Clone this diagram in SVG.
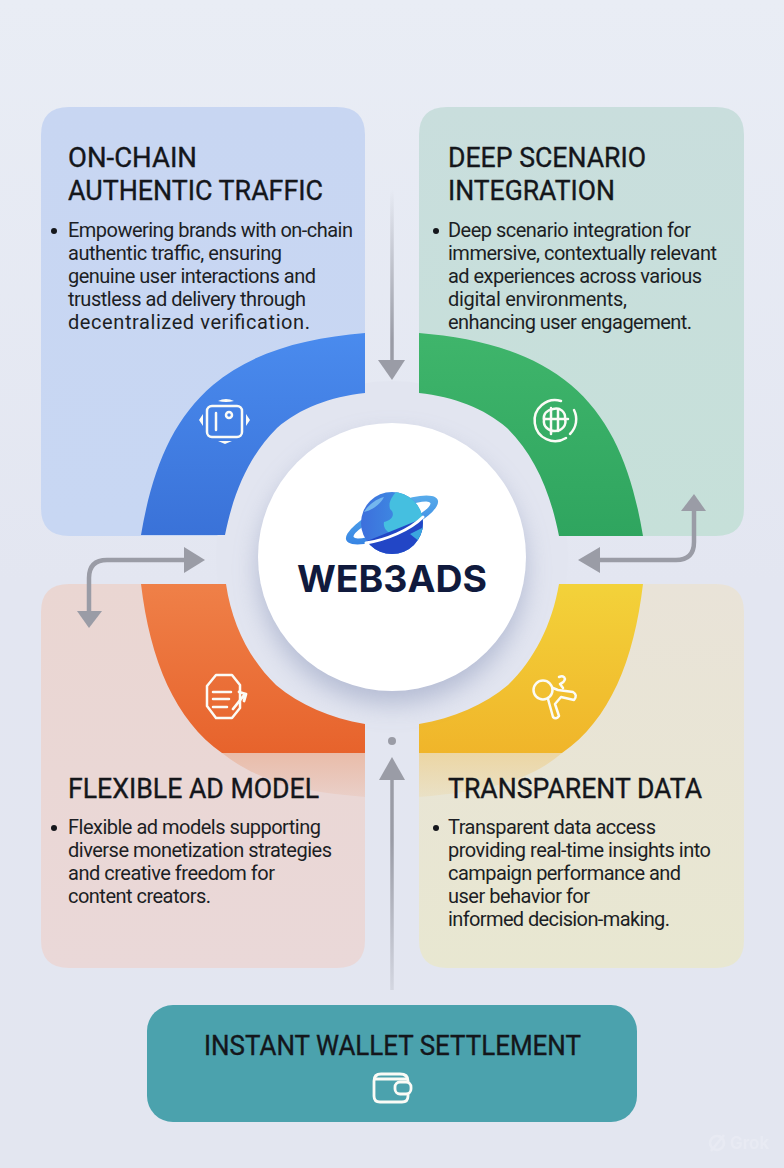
<svg xmlns="http://www.w3.org/2000/svg" width="784" height="1168" viewBox="0 0 784 1168">
<defs>
<linearGradient id="bg" x1="0" y1="0" x2="0" y2="1"><stop offset="0" stop-color="#e9edf5"/><stop offset="0.5" stop-color="#e3e6f1"/><stop offset="1" stop-color="#e3e6f0"/></linearGradient>
<linearGradient id="pTL" x1="0" y1="0" x2="0" y2="1"><stop offset="0" stop-color="#c8d6f2"/><stop offset="1" stop-color="#c8d7f3"/></linearGradient>
<linearGradient id="pTR" x1="0" y1="0" x2="0" y2="1"><stop offset="0" stop-color="#c9dedd"/><stop offset="1" stop-color="#c6e0d9"/></linearGradient>
<linearGradient id="pBL" x1="0" y1="0" x2="0" y2="1"><stop offset="0" stop-color="#ead6d2"/><stop offset="1" stop-color="#ead8d8"/></linearGradient>
<linearGradient id="pBR" x1="0" y1="0" x2="0" y2="1"><stop offset="0" stop-color="#e9e3d8"/><stop offset="1" stop-color="#e8e7d1"/></linearGradient>
<linearGradient id="aB" gradientUnits="userSpaceOnUse" x1="0" y1="333" x2="0" y2="536"><stop offset="0" stop-color="#4a8bee"/><stop offset="1" stop-color="#3a72d8"/></linearGradient>
<linearGradient id="aG" gradientUnits="userSpaceOnUse" x1="0" y1="333" x2="0" y2="536"><stop offset="0" stop-color="#3fb56b"/><stop offset="1" stop-color="#2fa55f"/></linearGradient>
<linearGradient id="aO" gradientUnits="userSpaceOnUse" x1="0" y1="584" x2="0" y2="753"><stop offset="0" stop-color="#ef8048"/><stop offset="1" stop-color="#e7632c"/></linearGradient>
<linearGradient id="aY" gradientUnits="userSpaceOnUse" x1="0" y1="584" x2="0" y2="753"><stop offset="0" stop-color="#f3d23a"/><stop offset="1" stop-color="#f0b52a"/></linearGradient>
<linearGradient id="sO" gradientUnits="userSpaceOnUse" x1="0" y1="753" x2="0" y2="800"><stop offset="0" stop-color="#e9bca9"/><stop offset="1" stop-color="#e9bca9" stop-opacity=".25"/></linearGradient>
<linearGradient id="sY" gradientUnits="userSpaceOnUse" x1="0" y1="753" x2="0" y2="800"><stop offset="0" stop-color="#ecd6a4"/><stop offset="1" stop-color="#ecd6a4" stop-opacity=".25"/></linearGradient>
<linearGradient id="fadeTop" gradientUnits="userSpaceOnUse" x1="0" y1="190" x2="0" y2="340"><stop offset="0" stop-color="#9a9ca6" stop-opacity="0"/><stop offset="1" stop-color="#9a9ca6"/></linearGradient>
<linearGradient id="fadeBot" gradientUnits="userSpaceOnUse" x1="0" y1="840" x2="0" y2="992"><stop offset="0" stop-color="#9a9ca6"/><stop offset="1" stop-color="#9a9ca6" stop-opacity="0.2"/></linearGradient>
<linearGradient id="globe" x1="0" y1="0" x2="1" y2="0"><stop offset="0" stop-color="#3d6fdc"/><stop offset="1" stop-color="#3e9be6"/></linearGradient>
<linearGradient id="ring" x1="0" y1="1" x2="1" y2="0"><stop offset="0" stop-color="#2f7be2"/><stop offset="1" stop-color="#5fb4ec"/></linearGradient>
<filter id="soft" x="-30%" y="-30%" width="160%" height="160%"><feGaussianBlur stdDeviation="12"/></filter>
<clipPath id="clipG"><circle cx="392" cy="523" r="31"/></clipPath>
</defs>
<style>
.t{font-family:"Roboto","Liberation Sans",sans-serif;fill:#1c1e24}
.h{font-size:27px;font-weight:400;fill:#14161b;stroke:#14161b;stroke-width:.35px}
.b{font-size:20px}
.ic{fill:none;stroke:#fbfbf6;stroke-width:2.5;stroke-linecap:round;stroke-linejoin:round}
.wf{fill:#fbfbf6}
.cn{fill:none;stroke:#9a9ca6;stroke-width:4.500}
.hd{fill:#9a9ca6}
</style>
<rect width="784" height="1168" fill="url(#bg)"/>

<g id="panel-on-chain">
<path d="M69 107H337Q365 107 365 135V536H69Q41 536 41 508V135Q41 107 69 107Z" fill="url(#pTL)"/>
</g>
<g id="panel-deep-scenario">
<path d="M447 107H716Q744 107 744 135V508Q744 536 716 536H419V135Q419 107 447 107Z" fill="url(#pTR)"/>
</g>
<g id="panel-flexible">
<path d="M69 584H365V940Q365 968 337 968H69Q41 968 41 940V612Q41 584 69 584Z" fill="url(#pBL)"/>
</g>
<g id="panel-transparent">
<path d="M419 584H716Q744 584 744 612V940Q744 968 716 968H447Q419 968 419 940Z" fill="url(#pBR)"/>
</g>

<path d="M222 753H365V797C310 792 262 785 222 753Z" fill="url(#sO)"/>
<path d="M419 753H562C525 785 475 792 419 797Z" fill="url(#sY)"/>

<circle cx="392" cy="557" r="176" fill="#e2e5f0"/>

<g id="arc-blue">
<path d="M365 333C305 338 252 352 213 385C172 420 152 470 141 535H225C234 490 250 455 277 428C300 408 330 397 365 393Z" fill="url(#aB)"/>
<g class="ic">
<rect x="207" y="406" width="35" height="31" rx="5"/>
<path d="M216 413V430"/>
</g>
<circle cx="229" cy="415" r="3" fill="none" stroke="#fbfbf6" stroke-width="2.500"/>
<path class="wf" d="M218 401Q226 397 234 401Q226 403 218 401ZM218 441H232L225 444ZM203 414V426L199 420ZM246 414L250 420L246 426Z"/>
</g>
<g id="arc-green">
<path d="M419 333C479 338 532 352 571 385C612 420 632 470 643 536H559C550 490 534 455 507 428C484 408 454 397 419 393Z" fill="url(#aG)"/>
<g class="ic">
<path d="M561 401A20.500 20.500 0 1 0 566 438"/>
<path d="M570 434A20.500 20.500 0 0 0 574 410"/>
<path d="M553 409C560 407 566 412 565 419C567 425 562 431 555 431C548 431 543 426 544 420C543 414 547 410 553 409Z"/>
<path d="M551 408V434M558 409V431M544 419H568"/>
</g>
</g>
<g id="arc-orange">
<path d="M141 584H226C232 625 250 660 276 685C300 705 330 718 365 724V753H222C175 720 150 660 141 584Z" fill="url(#aO)"/>
<g class="ic">
<path d="M216 675H232L240 685V708L232 718H216L207 706V686Z"/>
<path d="M213 692H231M213 699H229M213 707H227"/>
<path d="M233 709L245 694M239 692L246 694L244 701" stroke-width="2.800"/>
</g>
</g>
<g id="arc-yellow">
<path d="M643 584H559C552 625 534 660 508 685C484 705 454 718 419 724V753H562C610 720 634 660 643 584Z" fill="url(#aY)"/>
<g class="ic">
<circle cx="543" cy="690" r="9.500"/>
<path d="M548 699L553 717Q556 720 559 716L555 704L561 697L574 700Q578 695 573 692L558 690L553 688M559 677Q564 675 565 679Q564 683 560 684L563 688"/>
</g>
</g>

<g id="hub">
<circle cx="392" cy="570" r="134" fill="#a2abc8" opacity=".7" filter="url(#soft)"/>
<circle cx="392" cy="557" r="134" fill="#ffffff"/>
<g id="logo">
<g transform="rotate(-24 392 520)">
<ellipse cx="392" cy="520" rx="50" ry="15" fill="url(#ring)"/>
<ellipse cx="392" cy="520" rx="42" ry="8" fill="#ffffff"/>
</g>
<circle cx="392" cy="523" r="31" fill="url(#globe)"/>
<g clip-path="url(#clipG)">
<path d="M396 492C412 492 424 505 424 522C423 532 416 538 402 541C396 536 382 532 384 522C392 520 396 514 390 509C388 502 392 497 396 492Z" fill="#45bfe0"/>
<path d="M384 497C376 499 368 505 364 512C372 510 380 505 384 497Z" fill="#74b6ee"/>
<path d="M357 545L426 517L426 560H357Z" fill="#2246c6"/>
<path d="M410 534L424 527L420 542Z" fill="#3aa6de"/>
</g>
<path d="M366 543C386 540 410 530 423 517" fill="none" stroke="#ffffff" stroke-width="3" stroke-linecap="round"/>
<text x="392" y="592" text-anchor="middle" textLength="190" lengthAdjust="spacingAndGlyphs" style="font-family:'Inter','Open Sans',sans-serif;font-weight:700;font-size:37px;fill:#101a3d">WEB3ADS</text>
</g>
</g>

<g id="connectors">
<path d="M392 190V362" style="fill:none;stroke:url(#fadeTop);stroke-width:3.500"/>
<polygon class="hd" points="378,360 405,360 392,380"/>
<path d="M392 778V990" style="fill:none;stroke:url(#fadeBot);stroke-width:3.500"/>
<polygon class="hd" points="392,757 405,780 379,780"/>
<circle class="hd" cx="392" cy="741" r="4"/>
<path class="cn" d="M598 560H676Q694 560 694 542V508"/>
<polygon class="hd" points="578,560 600,547 600,573"/>
<polygon class="hd" points="694,494 706,511 681,511"/>
<path class="cn" d="M186 560H107Q89 560 89 578V613"/>
<polygon class="hd" points="205,560 184,547 184,573"/>
<polygon class="hd" points="89,628 77,611 102,611"/>
</g>

<g id="text-on-chain">
<text class="t h" x="68" y="167" textLength="129" lengthAdjust="spacingAndGlyphs">ON-CHAIN</text>
<text class="t h" x="68" y="200" textLength="255" lengthAdjust="spacingAndGlyphs">AUTHENTIC TRAFFIC</text>
<circle cx="54" cy="231" r="3" fill="#15171c"/>
<text class="t b" x="68" y="237" textLength="285">Empowering brands with on-chain</text>
<text class="t b" x="68" y="260" textLength="214">authentic traffic, ensuring</text>
<text class="t b" x="68" y="283" textLength="248">genuine user interactions and</text>
<text class="t b" x="68" y="306" textLength="238">trustless ad delivery through</text>
<text class="t b" x="68" y="329" textLength="242">decentralized verification.</text>
</g>
<g id="text-deep-scenario">
<text class="t h" x="448" y="167" textLength="198" lengthAdjust="spacingAndGlyphs">DEEP SCENARIO</text>
<text class="t h" x="448" y="200" textLength="167" lengthAdjust="spacingAndGlyphs">INTEGRATION</text>
<circle cx="436" cy="231" r="3" fill="#15171c"/>
<text class="t b" x="448" y="237" textLength="243">Deep scenario integration for</text>
<text class="t b" x="448" y="260" textLength="269">immersive, contextually relevant</text>
<text class="t b" x="448" y="283" textLength="254">ad experiences across various</text>
<text class="t b" x="448" y="306" textLength="179">digital environments,</text>
<text class="t b" x="448" y="329" textLength="244">enhancing user engagement.</text>
</g>
<g id="text-flexible">
<text class="t h" x="68" y="798" textLength="251" lengthAdjust="spacingAndGlyphs">FLEXIBLE AD MODEL</text>
<circle cx="54" cy="828" r="3" fill="#15171c"/>
<text class="t b" x="68" y="834" textLength="253">Flexible ad models supporting</text>
<text class="t b" x="68" y="857" textLength="264">diverse monetization strategies</text>
<text class="t b" x="68" y="880" textLength="207">and creative freedom for</text>
<text class="t b" x="68" y="903" textLength="143">content creators.</text>
</g>
<g id="text-transparent">
<text class="t h" x="448" y="798" textLength="254" lengthAdjust="spacingAndGlyphs">TRANSPARENT DATA</text>
<circle cx="436" cy="828" r="3" fill="#15171c"/>
<text class="t b" x="448" y="834" textLength="208">Transparent data access</text>
<text class="t b" x="448" y="857" textLength="263">providing real-time insights into</text>
<text class="t b" x="448" y="880" textLength="233">campaign performance and</text>
<text class="t b" x="448" y="903" textLength="142">user behavior for</text>
<text class="t b" x="448" y="926" textLength="222">informed decision-making.</text>
</g>

<g id="settlement">
<rect x="147" y="1005" width="490" height="117" rx="26" fill="#4ba2ad"/>
<text class="t h" x="204" y="1055" textLength="377" lengthAdjust="spacingAndGlyphs">INSTANT WALLET SETTLEMENT</text>
<g class="ic" style="stroke-width:2.800">
<path d="M381 1074H400Q408 1074 408 1081V1096Q408 1102 402 1102H380Q374 1102 374 1096V1081Q374 1074 381 1074Z"/>
<path d="M375 1079H407"/>
<rect x="395" y="1082" width="16" height="12" rx="5" fill="#4ba2ad"/>
</g>
</g>

<g id="watermark" opacity=".3">
<circle cx="717" cy="1143" r="7" fill="none" stroke="#f4f5fa" stroke-width="2.500"/>
<path d="M711 1151L724 1135" stroke="#f4f5fa" stroke-width="2.500"/>
<text x="730" y="1149" style="font-family:'Inter','Liberation Sans',sans-serif;font-size:17px;font-weight:600;fill:#f4f5fa">Grok</text>
</g>
</svg>
